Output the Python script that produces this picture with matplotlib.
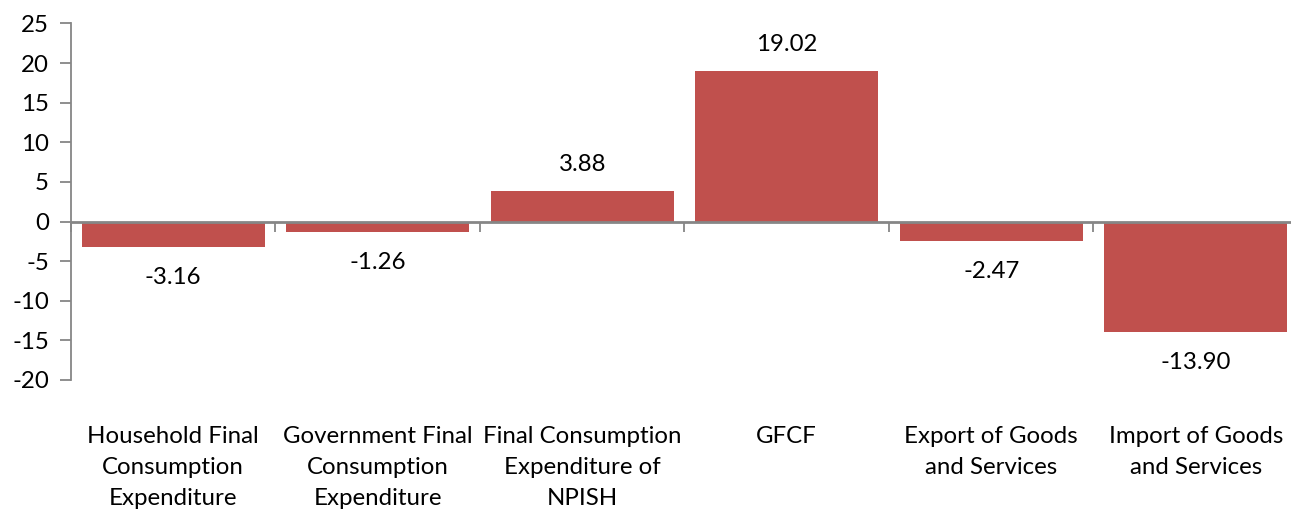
import matplotlib
matplotlib.use("Agg")
import matplotlib.pyplot as plt
from matplotlib.transforms import blended_transform_factory

categories = ["Household Final\nConsumption\nExpenditure",
              "Government Final\nConsumption\nExpenditure",
              "Final Consumption\nExpenditure of\nNPISH",
              "GFCF",
              "Export of Goods\nand Services",
              "Import of Goods\nand Services"]
values = [-3.16, -1.26, 3.88, 19.02, -2.47, -13.90]
yticks = [-20, -15, -10, -5, 0, 5, 10, 15, 20, 25]

plt.rcParams['font.family'] = ['Lato', 'DejaVu Sans']
W, H = 1291, 512
fig = plt.figure(figsize=(W/100, H/100), dpi=100)
left, right_px, top_px, bot_px = 71, 71 + 6*204.5, 23.5, 380
ax = fig.add_axes([left/W, 1 - bot_px/H, (right_px-left)/W, (bot_px-top_px)/H])

grey = '#868686'
bar_color = '#C0504D'
fs = 17.3
x = list(range(len(values)))
ax.bar(x, values, width=0.895, color=bar_color, zorder=2)

ax.set_xlim(-0.5, len(values) - 0.5)
ax.set_ylim(-20, 25)
ax.set_yticks(yticks)
ax.set_yticklabels([str(t) for t in yticks], fontsize=fs)
ax.tick_params(axis='y', length=8, width=1.3, color=grey, pad=8)

for s in ['top', 'right']:
    ax.spines[s].set_visible(False)
ax.spines['left'].set_color(grey)
ax.spines['left'].set_linewidth(1.3)
ax.spines['bottom'].set_position(('data', 0))
ax.spines['bottom'].set_color(grey)
ax.spines['bottom'].set_linewidth(2)
ax.spines['bottom'].set_zorder(3)
ax.set_xticks([i - 0.5 for i in range(len(values) + 1)])
ax.set_xticklabels([])
ax.tick_params(axis='x', length=7, width=1.3, color=grey, direction='out')

for xi, v in zip(x, values):
    off = 19 if v >= 0 else -22
    ax.annotate(f"{v:.2f}", (xi, v), xytext=(0, off), textcoords='offset points',
                ha='center', va='center', fontsize=fs)

trans = blended_transform_factory(ax.transData, fig.transFigure)
for xi, c in zip(x, categories):
    ax.text(xi, 1 - 426/H, c, transform=trans, ha='center', va='top',
            fontsize=fs, linespacing=1.58)

fig.savefig('out.png', dpi=100)
